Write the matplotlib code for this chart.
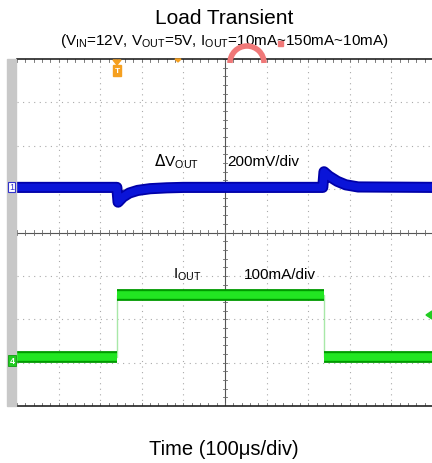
import matplotlib.pyplot as plt
from matplotlib.patches import Rectangle, Arc, Polygon

plt.rcParams['font.family'] = ['Liberation Sans', 'DejaVu Sans']

# time in divisions (100us/div), levels in vertical divisions
blue_t = [0.0, 2.4, 2.43, 2.55, 2.7, 2.9, 3.2, 3.6, 4.0, 7.35, 7.38, 7.5, 7.7, 7.9, 8.2, 10.0]
blue_v = [1.04, 1.04, 0.70, 0.82, 0.91, 0.97, 1.01, 1.03, 1.04, 1.04, 1.40, 1.30, 1.18, 1.10, 1.05, 1.04]

green_t = [0.0, 2.4, 2.4, 7.38, 7.38, 10.0]
green_v = [-2.86, -2.86, -1.45, -1.45, -2.86, -2.86]

W, H = 432, 464
fig = plt.figure(figsize=(W / 100, H / 100), dpi=100)
x0, x1, ytop, ybot = 17, 433, 60, 407
ax = fig.add_axes([x0 / W, (H - ybot) / H, (x1 - x0) / W, (ybot - ytop) / H])
ax.set_xlim(0, 10)
ax.set_ylim(-4, 4)
ax.set_xticks([])
ax.set_yticks([])
for s in ['left', 'right']:
    ax.spines[s].set_visible(False)
for s in ['top', 'bottom']:
    ax.spines[s].set_linewidth(1.2)
    ax.spines[s].set_color('#222222')

# grid
for gx in range(1, 10):
    if gx != 5:
        ax.axvline(gx, color='#aaaaaa', lw=0.8, ls=(0, (1, 4)))
for gy in range(-3, 4):
    if gy != 0:
        ax.axhline(gy, color='#aaaaaa', lw=0.8, ls=(0, (1, 4)))
ax.axvline(5, color='#555555', lw=0.8)
ax.axhline(0, color='#555555', lw=0.8)
for i in range(51):
    t = i / 5
    ax.plot([t, t], [-0.06, 0.06], color='#666666', lw=0.6)
    ax.plot([t, t], [3.93, 4.0], color='#666666', lw=0.6)
    ax.plot([t, t], [-4.0, -3.93], color='#666666', lw=0.6)
for i in range(41):
    v = -4 + i / 5
    ax.plot([4.94, 5.06], [v, v], color='#666666', lw=0.6)

# traces
ax.plot(blue_t, blue_v, color='#0000a8', lw=8, solid_joinstyle='round')
ax.plot(blue_t, blue_v, color='#0a14d8', lw=5.5, solid_joinstyle='round')
ax.plot(green_t, green_v, color='#a8e8a8', lw=1)
for a in [0, 2, 4]:
    ax.plot(green_t[a:a + 2], green_v[a:a + 2], color='#009a00', lw=8.5, solid_capstyle='butt')
    ax.plot(green_t[a:a + 2], green_v[a:a + 2], color='#22e622', lw=5.5, solid_capstyle='butt')

# labels inside
ax.text(3.3, 1.65, r'$\Delta$V$_{\mathregular{OUT}}$', fontsize=11, va='center')
ax.text(5.05, 1.65, '200mV/div', fontsize=11, va='center')
ax.text(3.75, -0.95, r'I$_{\mathregular{OUT}}$', fontsize=11, va='center')
ax.text(5.45, -0.95, '100mA/div', fontsize=11, va='center')

# gray strip and markers (figure pixels)
def fx(px):
    return px / W

def fy(py):
    return (H - py) / H

fig.patches.append(Rectangle((fx(7), fy(ybot)), fx(9), (ybot - ytop) / H,
                             transform=fig.transFigure, color='#c8c8c8', zorder=0))
fig.patches.append(Rectangle((fx(8), fy(193)), fx(7), 10 / H, transform=fig.transFigure,
                             facecolor='white', edgecolor='#3333cc', lw=0.8, zorder=5))
fig.text(fx(11.5), fy(188), '1', fontsize=6.5, color='#3333cc', ha='center', va='center', zorder=6)
fig.patches.append(Rectangle((fx(8), fy(367)), fx(8), 11 / H, transform=fig.transFigure,
                             facecolor='#22cc22', edgecolor='#119911', lw=0.6, zorder=5))
fig.text(fx(12), fy(361.5), '4', fontsize=6.5, color='white', ha='center', va='center',
         fontweight='bold', zorder=6)
fig.patches.append(Polygon([(fx(113), fy(61)), (fx(121), fy(61)), (fx(117), fy(66))],
                           transform=fig.transFigure, color='#f5a020', zorder=5))
fig.patches.append(Rectangle((fx(113), fy(77)), fx(8), 11 / H, transform=fig.transFigure,
                             color='#f5a020', zorder=5))
fig.text(fx(117), fy(71.5), 'T', fontsize=6, color='white', ha='center', va='center',
         fontweight='bold', zorder=6)
fig.patches.append(Polygon([(fx(175), fy(60)), (fx(181), fy(60)), (fx(178), fy(63))],
                           transform=fig.transFigure, color='#f5a020', zorder=5))
fig.patches.append(Polygon([(fx(426), fy(316)), (fx(432), fy(312)), (fx(432), fy(320))],
                           transform=fig.transFigure, color='#22cc22', zorder=5))
fig.patches.append(Arc((fx(247), fy(64)), 34 / W, 34 / H, theta1=0, theta2=180,
                       transform=fig.transFigure, color='#f07878', lw=4, zorder=5))
fig.patches.append(Rectangle((fx(278), fy(47)), 5 / W, 5 / H, transform=fig.transFigure,
                             color='#f07878', zorder=5))

# titles
fig.text(fx(224), fy(19), 'Load Transient', fontsize=15, ha='center', va='center')
fig.text(fx(224), fy(41),
         r'(V$_{\mathregular{IN}}$=12V, V$_{\mathregular{OUT}}$=5V, I$_{\mathregular{OUT}}$=10mA~150mA~10mA)',
         fontsize=11, ha='center', va='center')
fig.text(fx(224), fy(450), 'Time (100μs/div)', fontsize=14.5, ha='center', va='center')

fig.savefig('out.png', dpi=100)
